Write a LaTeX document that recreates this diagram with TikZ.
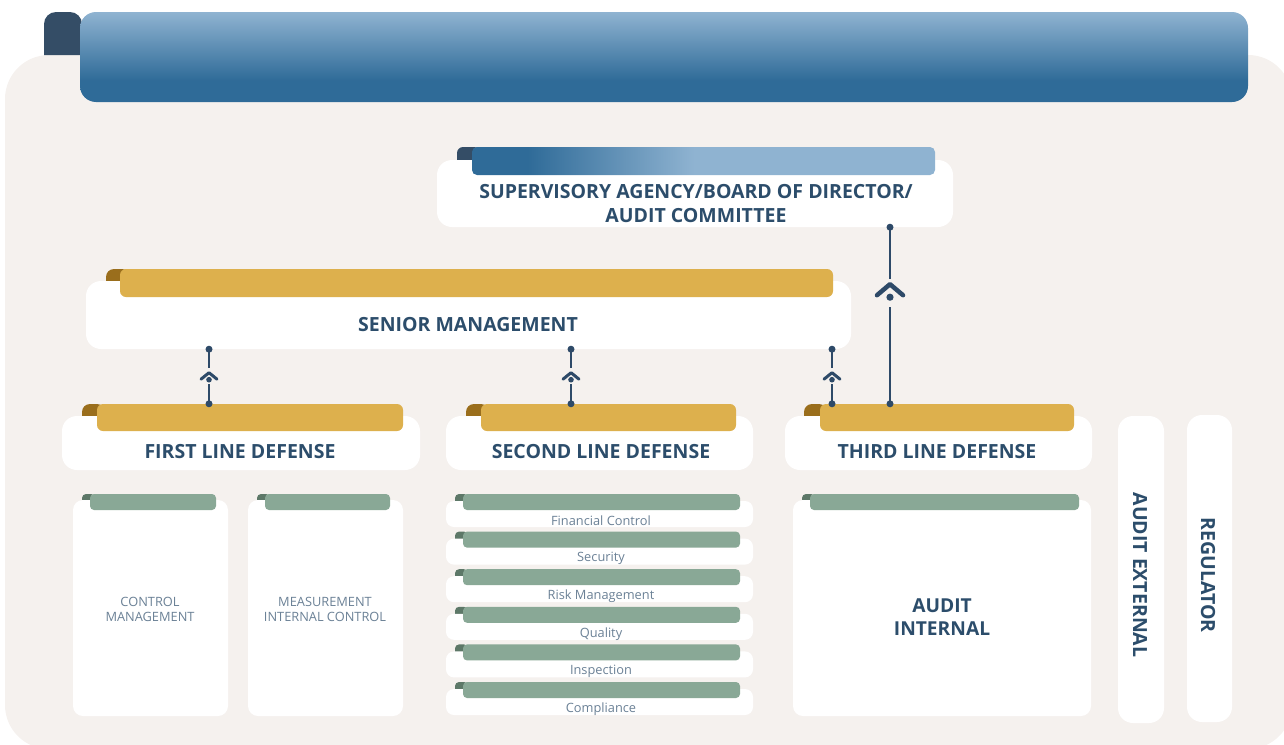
\documentclass[tikz,border=0pt]{standalone}
\usepackage{fontspec}
\setmainfont{Open Sans}
\usetikzlibrary{calc}
\definecolor{beige}{HTML}{F5F1EE}
\definecolor{bdark}{HTML}{2F6B98}
\definecolor{blight}{HTML}{8FB3D1}
\definecolor{tabblue}{HTML}{344D66}
\definecolor{textblue}{HTML}{2C4D6B}
\definecolor{lighttext}{HTML}{6B8196}
\definecolor{gold}{HTML}{DDB04D}
\definecolor{darkgold}{HTML}{9A6E1C}
\definecolor{sage}{HTML}{89A896}
\definecolor{darksage}{HTML}{5D7868}
\definecolor{connc}{HTML}{2E4A68}
\pgfdeclareverticalshading{bannershade}{100bp}{color(0bp)=(bdark); color(37bp)=(bdark); color(75bp)=(blight); color(100bp)=(blight)}
\pgfdeclarehorizontalshading{supshade}{100bp}{color(0bp)=(bdark); color(31bp)=(bdark); color(49bp)=(blight); color(100bp)=(blight)}
\tikzset{
  whitebox/.style={fill=white, rounded corners=15pt},
  cardbox/.style={fill=white, rounded corners=10pt},
  rowbox/.style={fill=white, rounded corners=8pt},
  goldhead/.style={fill=gold, rounded corners=6pt},
  goldtab/.style={fill=darkgold, rounded corners=8pt},
  sagehead/.style={fill=sage, rounded corners=4pt},
  sagetab/.style={fill=darksage, rounded corners=4pt},
  bigtitle/.style={text=textblue, font=\fontsize{19.5}{24}\selectfont\bfseries, align=center, inner sep=0pt},
  smalltext/.style={text=lighttext, font=\fontsize{12.8}{15}\selectfont, align=center, inner sep=0pt},
  conn/.style={draw=connc, line width=2.4pt},
  chev/.style={draw=connc, line width=3pt, line cap=round, line join=round},
  bigchev/.style={draw=connc, line width=4.5pt, line cap=round, line join=round},
  dotc/.style={fill=connc},
}
\begin{document}
\begin{tikzpicture}[x=1pt,y=-1pt]
\useasboundingbox (0,0) rectangle (1284,744);
% background
\fill[beige, rounded corners=44pt] (5,55) rectangle (1292,749);
% top banner
\fill[tabblue] (44,55) [rounded corners=12pt] -- (44,12) -- (82,12) [sharp corners] -- (82,55) -- cycle;
\path[shading=bannershade, rounded corners=16pt] (80,12) rectangle (1248,102);
\node[inner sep=0pt, minimum width=1168pt, minimum height=90pt] (banner) at (664,57) {};

% supervisory
\fill[tabblue, rounded corners=6pt] (457,147) rectangle (480,170);
\path[whitebox] (437,160) rectangle (953,227);
\node[inner sep=0pt, minimum width=516pt, minimum height=67pt] (sup) at (695,193.5) {};
\path[shading=supshade, rounded corners=5pt] (472,147) rectangle (935,175);
\node[bigtitle] (suptext) at (696,203.5) {SUPERVISORY AGENCY/BOARD OF DIRECTOR/\\AUDIT COMMITTEE};

% senior management
\path[goldtab] (106,269) rectangle (130,290);
\path[whitebox] (86,281) rectangle (851,349);
\node[inner sep=0pt, minimum width=765pt, minimum height=68pt] (sm) at (468.5,315) {};
\path[goldhead] (120,269) rectangle (833,297);
\node[bigtitle] (smtext) at (468,324.5) {SENIOR MANAGEMENT};

% lines of defense
\path[goldtab] (82,404) rectangle (105,425);
\path[whitebox] (62,416) rectangle (420,470);
\path[goldhead] (97,404) rectangle (403,431);
\node[inner sep=0pt, minimum width=306pt, minimum height=27pt] (flh) at (250,417.5) {};
\node[bigtitle] (fltext) at (240,451.5) {FIRST LINE DEFENSE};

\path[goldtab] (466,404) rectangle (489,425);
\path[whitebox] (446,416) rectangle (753,470);
\path[goldhead] (481,404) rectangle (736,431);
\node[inner sep=0pt, minimum width=255pt, minimum height=27pt] (slh) at (608.5,417.5) {};
\node[bigtitle] (sltext) at (601,451.5) {SECOND LINE DEFENSE};

\path[goldtab] (804,404) rectangle (827,425);
\path[whitebox] (785,416) rectangle (1092,470);
\path[goldhead] (820,404) rectangle (1074,431);
\node[inner sep=0pt, minimum width=254pt, minimum height=27pt] (tlh) at (947,417.5) {};
\node[bigtitle] (tltext) at (937,451.5) {THIRD LINE DEFENSE};

% first line cards
\path[sagetab] (82,494) rectangle (95,506);
\path[cardbox] (73,500) rectangle (228,716);
\path[sagehead] (90,494) rectangle (216,510);
\node[smalltext] (cm) at (150,609) {CONTROL\\MANAGEMENT};

\path[sagetab] (257,494) rectangle (270,506);
\path[cardbox] (248,500) rectangle (403,716);
\path[sagehead] (265,494) rectangle (390,510);
\node[smalltext] (mic) at (325,609) {MEASUREMENT\\INTERNAL CONTROL};

% second line rows
\foreach \i/\lbl in {0/Financial Control,1/Security,2/Risk Management,3/Quality,4/Inspection,5/Compliance}{
  \pgfmathsetmacro{\t}{494+37.6*\i}
  \path[sagetab] (455,\t) rectangle (468,\t+12);
  \path[rowbox] (446,\t+7) rectangle (753,\t+33);
  \path[sagehead] (463,\t) rectangle (740,\t+16);
  \node[smalltext] (row\i) at (601,\t+27) {\lbl};
}

% audit internal
\path[sagetab] (802,494) rectangle (815,506);
\path[cardbox] (793,500) rectangle (1091,716);
\path[sagehead] (810,494) rectangle (1079,510);
\node[bigtitle, font=\fontsize{19.2}{23}\selectfont\bfseries] (ai) at (942,617) {AUDIT\\INTERNAL};

% external boxes
\path[whitebox] (1118,416) rectangle (1164,723);
\node[bigtitle, rotate=-90] (ae) at (1140,575) {AUDIT EXTERNAL};
\path[whitebox] (1187,415) rectangle (1232,722);
\node[bigtitle, rotate=-90] (reg) at (1208,575) {REGULATOR};

% connectors
\coordinate (k1) at (209,0);
\coordinate (k2) at (571,0);
\coordinate (k3) at (832,0);
\coordinate (k4) at (890,0);
\foreach \k/\b in {k1/flh,k2/slh,k3/tlh}{
  \coordinate (T) at (\k |- sm.south);
  \coordinate (B) at (\k |- \b.north);
  \draw[conn] (T) -- ($(T)+(0,19)$);
  \draw[chev] ($(T)+(-8,30)$) -- ($(T)+(0,23.5)$) -- ($(T)+(8,30)$);
  \fill[dotc] ($(T)+(0,30.5)$) circle (2.8pt);
  \draw[conn] ($(T)+(0,35)$) -- (B);
  \fill[dotc] (T) circle (3.5pt);
  \fill[dotc] (B) circle (3.5pt);
}
\coordinate (T4) at (k4 |- sup.south);
\coordinate (B4) at (k4 |- tlh.north);
\draw[conn] (T4) -- ($(T4)+(0,52)$);
\draw[bigchev] ($(T4)+(-13,68)$) -- ($(T4)+(0,57)$) -- ($(T4)+(13,68)$);
\fill[dotc] ($(T4)+(0,70)$) circle (3.6pt);
\draw[conn] ($(T4)+(0,80)$) -- (B4);
\fill[dotc] (T4) circle (3.5pt);
\fill[dotc] (B4) circle (3.5pt);
\end{tikzpicture}
\end{document}
